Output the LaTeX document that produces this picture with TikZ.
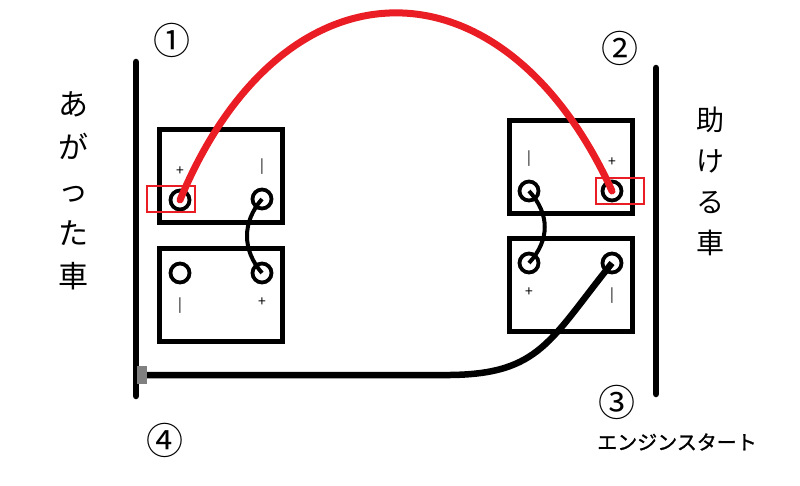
\documentclass[tikz,border=0pt]{standalone}
\usepackage{fontspec}
\newfontfamily\jpfont{Noto Sans CJK JP}
\newfontfamily\jpbold[FakeBold=1.3]{Noto Sans CJK JP}
\usepackage{tikz}
\usetikzlibrary{positioning}
\definecolor{cablered}{RGB}{234,28,36}
\definecolor{clampgray}{RGB}{128,128,128}
\tikzstyle{battery} = [draw,line width=5pt,minimum width=123pt,minimum height=93pt,inner sep=0pt]
\tikzstyle{terminal} = [draw,circle,line width=3.8pt,minimum size=19pt,inner sep=0pt]
\tikzstyle{sign} = [inner sep=0pt,font=\jpfont\fontsize{14}{14}\selectfont]
\tikzstyle{bar} = [line width=6.5pt,line cap=round]
\tikzstyle{jumper} = [line width=4pt]
\tikzstyle{redcable} = [cablered,line width=7pt,line cap=round]
\tikzstyle{blackcable} = [line width=6.5pt]
\tikzstyle{markbox} = [draw=cablered,line width=2pt,minimum width=48pt,minimum height=26pt,inner sep=0pt]
\tikzstyle{vtext} = [align=center,inner sep=0pt]
\tikzstyle{num} = [inner sep=0pt,font=\jpfont\fontsize{37}{37}\selectfont]
\begin{document}
\begin{tikzpicture}[x=1pt,y=-1pt]
						\useasboundingbox (0,0) rectangle (800,485);
						%Bars
						\coordinate (lbtop) at (136,62);
						\coordinate (lbbot) at (136,396);
						\coordinate (rbtop) at (656,68);
						\coordinate (rbbot) at (656,394);
						\draw[bar] (lbtop) -- (lbbot);
						\draw[bar] (rbtop) -- (rbbot);
					
						%Batteries
						\node[battery] (lupper) at (221,176) {};
						\node[battery] (llower) at (221,295) {};
						\node[battery] (rupper) at (571,167) {};
						\node[battery] (rlower) at (571,285) {};
					
						%Terminals
						\node[terminal] (lp1) at (180,200) {};
						\node[terminal] (lm1) at (262,199) {};
						\node[terminal] (lm2) at (180,273) {};
						\node[terminal] (lp2) at (262,273) {};
						\node[terminal] (rm1) at (529,191) {};
						\node[terminal] (rp1) at (612,191) {};
						\node[terminal] (rp2) at (529,263) {};
						\node[terminal] (rm2) at (612,263) {};
					
						%Signs
						\node[sign,above=13pt of lp1] {+};
						\node[sign,above=13pt of lm1] {|};
						\node[sign,below=13pt of lm2] {|};
						\node[sign,below=13pt of lp2] {+};
						\node[sign,above=13pt of rm1] {|};
						\node[sign,above=13pt of rp1] {+};
						\node[sign,below=13pt of rp2] {+};
						\node[sign,below=13pt of rm2] {|};
					
						%Marks
						\node[markbox] (lmark) at (171,199) {};
						\node[markbox] (rmark) at (620,191) {};
					
						%Clamp
						\node[fill=clampgray,minimum width=10pt,minimum height=18pt,inner sep=0pt] (clamp) at (142,375) {};
					
						%Lines
						\draw[jumper] (lm1.center) .. controls (242,222) and (242,250) .. (lp2.center);
						\draw[jumper] (rm1.center) .. controls (550,214) and (550,240) .. (rp2.center);
						\draw[blackcable] (rm2.center) .. controls (550,340) and (540,374) .. (450,375) -- (clamp.east);
						\draw[redcable] (lp1.center) .. controls (283,-48) and (503,-48) .. (rp1.center);
					
						%Texts
						\node[vtext,font=\jpfont\fontsize{30}{43}\selectfont] (stalled) at (73,191) {あ\\が\\っ\\た\\車};
						\node[vtext,font=\jpfont\fontsize{28}{41}\selectfont] (helper) at (710,181) {助\\け\\る\\車};
						\node[num] (n1) at (172,40) {①};
						\node[num] (n2) at (620,48) {②};
						\node[num] (n3) at (617,402) {③};
						\node[num] (n4) at (165,440) {④};
						\node[inner sep=0pt,font=\jpbold\fontsize{20}{20}\selectfont] (start) at (677,442) {エンジンスタート};
					\end{tikzpicture}
\end{document}
